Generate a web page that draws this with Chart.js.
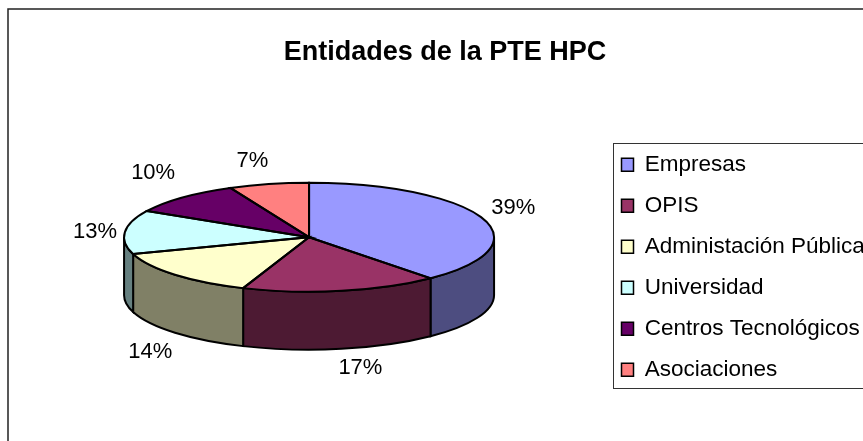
<!DOCTYPE html>
<html>
<head>
<meta charset="utf-8">
<style>
html, body { margin: 0; padding: 0; background: #fff; overflow: hidden; }
canvas { display: block; }
</style>
<script src="https://cdn.jsdelivr.net/npm/chart.js@4"></script>
</head>
<body>
<canvas id="graph" width="863" height="441"></canvas>
<script>
const categories = ['Empresas', 'OPIS', 'Administación Pública', 'Universidad', 'Centros Tecnológicos', 'Asociaciones'];
const values = [38.6, 17.2, 14.2, 13, 10, 7];
const topColors = ['#9999FF', '#993366', '#FFFFCC', '#CCFFFF', '#660066', '#FF8080'];
const sideColors = ['#4D4D80', '#4D1A33', '#808066', '#668080', '#330033', '#804040'];

const FONT = '"Liberation Sans", Arial, sans-serif';
const squash = 54.5 / 185;   // top of the pie is flattened to an ellipse
const depth = 58;
// small nudges so the percent labels land where the original put them
const labelNudge = [[-1, -1], [13, -6], [0, 2], [4, 2], [-6, -6], [-9, 2]];

function slices(chart) {
    return chart.getDatasetMeta(0).data;
}

const pie3d = {
    id: 'pie3d',
    // side walls go under the slices, then the slices are drawn flattened
    beforeDatasetsDraw(chart) {
        const ctx = chart.ctx;
        ctx.save();
        ctx.lineWidth = 2;
        ctx.strokeStyle = '#000';
        slices(chart).forEach((arc, i) => {
            const a1 = Math.max(arc.startAngle, 0);
            const a2 = Math.min(arc.endAngle, Math.PI);
            if (a2 <= a1) return;
            const rx = arc.outerRadius, ry = rx * squash;
            ctx.beginPath();
            ctx.ellipse(arc.x, arc.y, rx, ry, 0, a1, a2);
            ctx.ellipse(arc.x, arc.y + depth, rx, ry, 0, a2, a1, true);
            ctx.closePath();
            ctx.fillStyle = sideColors[i];
            ctx.fill();
            ctx.stroke();
        });
        ctx.restore();

        const cy = slices(chart)[0].y;
        ctx.save();
        ctx.translate(0, cy);
        ctx.scale(1, squash);
        ctx.translate(0, -cy);
    },
    afterDatasetsDraw(chart) {
        const ctx = chart.ctx;
        ctx.restore();

        // outlines are stroked outside the transform so they keep their width
        ctx.save();
        ctx.lineWidth = 2;
        ctx.strokeStyle = '#000';
        slices(chart).forEach(arc => {
            const rx = arc.outerRadius, ry = rx * squash;
            ctx.beginPath();
            ctx.moveTo(arc.x, arc.y);
            ctx.ellipse(arc.x, arc.y, rx, ry, 0, arc.startAngle, arc.endAngle);
            ctx.closePath();
            ctx.stroke();
        });

        // percent labels
        ctx.fillStyle = '#000';
        ctx.font = '22px ' + FONT;
        ctx.textAlign = 'center';
        ctx.textBaseline = 'middle';
        slices(chart).forEach((arc, i) => {
            const mid = (arc.startAngle + arc.endAngle) / 2;
            const s = Math.sin(mid);
            const x = arc.x + (arc.outerRadius + 34) * Math.cos(mid) + labelNudge[i][0];
            const y = arc.y + 80 * s + (s > 0 ? depth : 0) + labelNudge[i][1];
            ctx.fillText(Math.round(values[i]) + '%', x, y);
        });
        ctx.restore();
    },
    afterLayout(chart) {
        chart.legend.left = 603;
        chart.legend.right = 1000;
        chart.legend.top = 135;
        chart.legend.bottom = 441;
    },
    beforeDraw(chart) {
        const ctx = chart.ctx;
        ctx.save();
        ctx.fillStyle = '#fff';
        ctx.fillRect(0, 0, chart.width, chart.height);
        // frame and legend box both run past the right edge
        ctx.strokeStyle = '#222';
        ctx.lineWidth = 1.5;
        ctx.strokeRect(8, 9, 950, 600);
        ctx.lineWidth = 1;
        ctx.strokeStyle = '#333';
        ctx.strokeRect(613.5, 143.5, 300, 245);
        ctx.restore();
    }
};

new Chart(document.getElementById('graph'), {
    type: 'pie',
    data: {
        labels: categories,
        datasets: [{
            data: values,
            backgroundColor: topColors,
            borderWidth: 0,
            hoverOffset: 0,
            clip: false
        }]
    },
    plugins: [pie3d],
    options: {
        responsive: false,
        animation: false,
        events: [],
        radius: 185,
        layout: { padding: { left: 27, bottom: 35 } },
        plugins: {
            tooltip: { enabled: false },
            title: {
                display: true,
                text: 'Entidades de la PTE HPC',
                color: '#000',
                font: { family: FONT, size: 27, weight: 'bold' },
                padding: { top: 36, bottom: 0 }
            },
            legend: {
                position: 'right',
                align: 'start',
                labels: {
                    color: '#000',
                    font: { family: FONT, size: 22.5 },
                    boxWidth: 12,
                    boxHeight: 13,
                    padding: 18.5,
                    generateLabels(chart) {
                        return categories.map((name, i) => ({
                            text: name,
                            fillStyle: topColors[i],
                            strokeStyle: '#000',
                            lineWidth: 1.5,
                            index: i
                        }));
                    }
                }
            }
        }
    }
});
</script>
</body>
</html>
